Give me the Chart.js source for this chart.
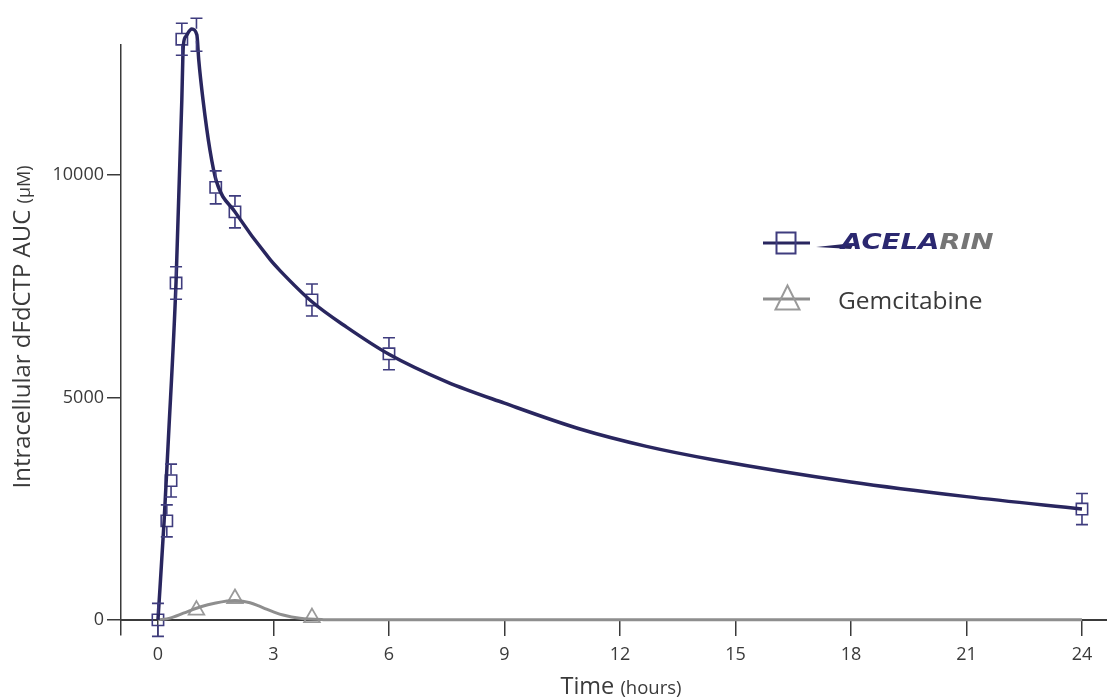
<!DOCTYPE html>
<html><head><meta charset="utf-8">
<script src="https://cdn.jsdelivr.net/npm/chart.js@4.4.1/dist/chart.umd.min.js"></script>
<style>html,body{margin:0;padding:0;background:#fff}#wrap{width:1107px;height:698px;position:relative}</style>
</head><body><div id="wrap"><canvas id="c"></canvas></div>
<script>
// ---- data ----
const xTickValues = [0, 3, 6, 9, 12, 15, 18, 21, 24];
const xTickLabels = ['0', '3', '6', '9', '12', '15', '18', '21', '24'];
const yTickValues = [0, 5000, 10000];
const yTickLabels = ['0', '5000', '10000'];

const acelarinTime = [0, 0.23, 0.34, 0.47, 0.62, 1, 1.5, 2, 4, 6, 24];
const acelarinAUC  = [0, 2225, 3130, 7570, 13050, 13150, 9720, 9170, 7190, 5980, 2490];
const acelarinErr  = [370, 360, 370, 365, 360, 370, 370, 360, 360, 360, 350];

const gemTime = [1, 2, 4];
const gemAUC  = [220, 480, 50];

const acelarinFitTime = [0, 0.16, 0.27, 0.47, 0.62, 0.645, 0.66, 0.73, 0.88, 1.01, 1.06, 1.17, 1.35, 1.52, 2.0, 2.91, 3.17, 4.0, 4.9, 6.0, 7.5, 9.0, 10.96, 12.69, 14.42, 18, 21, 24];
const acelarinFitAUC  = [0, 2225, 4050, 7600, 11690, 12590, 12920, 13120, 13280, 13150, 12580, 11690, 10560, 9850, 9170, 8100, 7850, 7150, 6580, 5970, 5350, 4870, 4290, 3900, 3600, 3100, 2770, 2490];

const gemFitTime = [0, 0.31, 0.66, 1.09, 1.5, 2.0, 2.2, 2.39, 2.6, 2.82, 3.0, 3.25, 3.69, 4.3, 5.0, 24];
const gemFitAUC  = [0, 40, 150, 290, 380, 435, 420, 385, 320, 240, 180, 108, 34, 5, 0, 0];

// ---- styling ----
const navyLine = '#29265f';
const navyMark = '#3f3c7e';
const grayLine = '#8e8e8e';
const grayMark = '#9a9a9a';
const textCol = '#3a3a3a';
const FONT = '"Open Sans", "Noto Sans", sans-serif';

const toXY = (xs, ys) => xs.map((x, i) => ({x: x, y: ys[i]}));

const errorBars = {
  id: 'errorBars',
  afterDatasetsDraw(chart) {
    const xs = chart.scales.x, ys = chart.scales.y, ctx = chart.ctx;
    ctx.save();
    ctx.strokeStyle = navyMark; ctx.lineWidth = 1.6;
    acelarinTime.forEach((t, i) => {
      const px = xs.getPixelForValue(t);
      const pc = ys.getPixelForValue(acelarinAUC[i]);
      const pt = ys.getPixelForValue(acelarinAUC[i] + acelarinErr[i]);
      const pb = ys.getPixelForValue(acelarinAUC[i] - acelarinErr[i]);
      const h = 6, cap = 6;
      ctx.beginPath();
      ctx.moveTo(px, pt); ctx.lineTo(px, pc - h);
      ctx.moveTo(px, pc + h); ctx.lineTo(px, pb);
      ctx.moveTo(px - cap, pt); ctx.lineTo(px + cap, pt);
      ctx.moveTo(px - cap, pb); ctx.lineTo(px + cap, pb);
      ctx.stroke();
    });
    ctx.restore();
  }
};

const decorations = {
  id: 'decorations',
  afterDraw(chart) {
    const ctx = chart.ctx;
    ctx.save();
    ctx.fillStyle = textCol;
    ctx.textBaseline = 'alphabetic';
    // x title
    const fBig = '23.5px ' + FONT, fSmall = '18.5px ' + FONT;
    ctx.font = fBig; const w1 = ctx.measureText('Time ').width;
    ctx.font = fSmall; const w2 = ctx.measureText('(hours)').width;
    let sx = 621 - (w1 + w2) / 2;
    ctx.font = fBig; ctx.fillText('Time ', sx, 694);
    ctx.font = fSmall; ctx.fillText('(hours)', sx + w1, 694);
    // y title
    ctx.save();
    ctx.translate(30, 327); ctx.rotate(-Math.PI / 2);
    const yBig = '24px ' + FONT, ySmall = '18px ' + FONT;
    ctx.font = yBig; const v1 = ctx.measureText('Intracellular dFdCTP AUC ').width;
    ctx.font = ySmall; const v2 = ctx.measureText('(\u03bcM)').width;
    let sy = -(v1 + v2) / 2;
    ctx.font = yBig; ctx.fillText('Intracellular dFdCTP AUC ', sy, 0);
    ctx.font = ySmall; ctx.fillText('(\u03bcM)', sy + v1, 0);
    ctx.restore();

    // legend item 1
    ctx.strokeStyle = navyLine; ctx.lineWidth = 3;
    ctx.beginPath(); ctx.moveTo(763, 243); ctx.lineTo(810, 243); ctx.stroke();
    ctx.strokeStyle = navyMark; ctx.lineWidth = 2;
    ctx.strokeRect(776.5, 232.5, 19, 21);
    // swoosh
    ctx.fillStyle = navyLine;
    ctx.beginPath(); ctx.moveTo(816, 247); ctx.lineTo(854, 243); ctx.lineTo(851, 249); ctx.closePath(); ctx.fill();
    // logo text
    ctx.save();
    ctx.translate(841, 249); ctx.scale(1.25, 1);
    ctx.font = 'italic bold 22px "DejaVu Sans"';
    ctx.fillStyle = '#2b2870';
    ctx.fillText('ACELA', 0, 0);
    const wa = ctx.measureText('ACELA').width;
    ctx.fillStyle = '#767676';
    ctx.fillText('RIN', wa, 0);
    ctx.restore();

    // legend item 2
    ctx.strokeStyle = grayLine; ctx.lineWidth = 3;
    ctx.beginPath(); ctx.moveTo(763, 299); ctx.lineTo(810, 299); ctx.stroke();
    ctx.strokeStyle = grayMark; ctx.lineWidth = 2;
    ctx.beginPath(); ctx.moveTo(787.5, 285.5); ctx.lineTo(775.5, 309.5); ctx.lineTo(799.5, 309.5); ctx.closePath(); ctx.stroke();
    ctx.fillStyle = textCol;
    ctx.font = '24.5px ' + FONT;
    ctx.fillText('Gemcitabine', 838, 309);
    ctx.restore();
  }
};

new Chart(document.getElementById('c'), {
  type: 'line',
  data: {
    datasets: [
      { label: 'Acelarin fit', data: toXY(acelarinFitTime, acelarinFitAUC), borderColor: navyLine, borderWidth: 3.5,
        pointRadius: 0, cubicInterpolationMode: 'monotone', fill: false, clip: false },
      { label: 'Gemcitabine fit', data: toXY(gemFitTime, gemFitAUC), borderColor: grayLine, borderWidth: 3,
        pointRadius: 0, cubicInterpolationMode: 'monotone', fill: false, clip: false },
      { label: 'Acelarin', data: toXY(acelarinTime, acelarinAUC), showLine: false, pointStyle: 'rect',
        pointRadius: 8, pointBorderWidth: 1.6, borderColor: navyMark, pointBorderColor: navyMark,
        pointBackgroundColor: 'rgba(0,0,0,0)', backgroundColor: 'rgba(0,0,0,0)', clip: false },
      { label: 'Gemcitabine', data: toXY(gemTime, gemAUC), showLine: false, pointStyle: 'triangle',
        pointRadius: 9, pointBorderWidth: 1.8, borderColor: grayMark, pointBorderColor: grayMark,
        pointBackgroundColor: 'rgba(0,0,0,0)', backgroundColor: 'rgba(0,0,0,0)', clip: false }
    ]
  },
  options: {
    responsive: true, maintainAspectRatio: false, animation: false,
    layout: { autoPadding: false, padding: { top: 45, bottom: 63, left: 0, right: 0 } },
    plugins: { legend: { display: false }, tooltip: { enabled: false } },
    scales: {
      x: {
        type: 'linear', position: { y: 0 }, min: -0.96, max: 24.65,
        afterBuildTicks: s => { s.ticks = xTickValues.map(v => ({ value: v })); },
        border: { display: true, color: textCol, width: 2 },
        grid: { drawOnChartArea: false, drawTicks: true, tickLength: 15, color: textCol, lineWidth: 1.5 },
        ticks: { color: textCol, font: { family: FONT, size: 18 }, padding: 9, maxRotation: 0, autoSkip: false,
                 callback: (v, i) => xTickLabels[i] }
      },
      y: {
        type: 'linear', min: -340, max: 12920,
        afterBuildTicks: s => { s.ticks = yTickValues.map(v => ({ value: v })); },
        afterFit: s => { s.width = 121; },
        border: { display: true, color: textCol, width: 1.5 },
        grid: { drawOnChartArea: false, drawTicks: true, tickLength: 14, color: textCol, lineWidth: 1.5 },
        ticks: { color: textCol, font: { family: FONT, size: 18 }, padding: 3, autoSkip: false,
                 callback: (v, i) => yTickLabels[i] }
      }
    }
  },
  plugins: [errorBars, decorations]
});
</script></body></html>
